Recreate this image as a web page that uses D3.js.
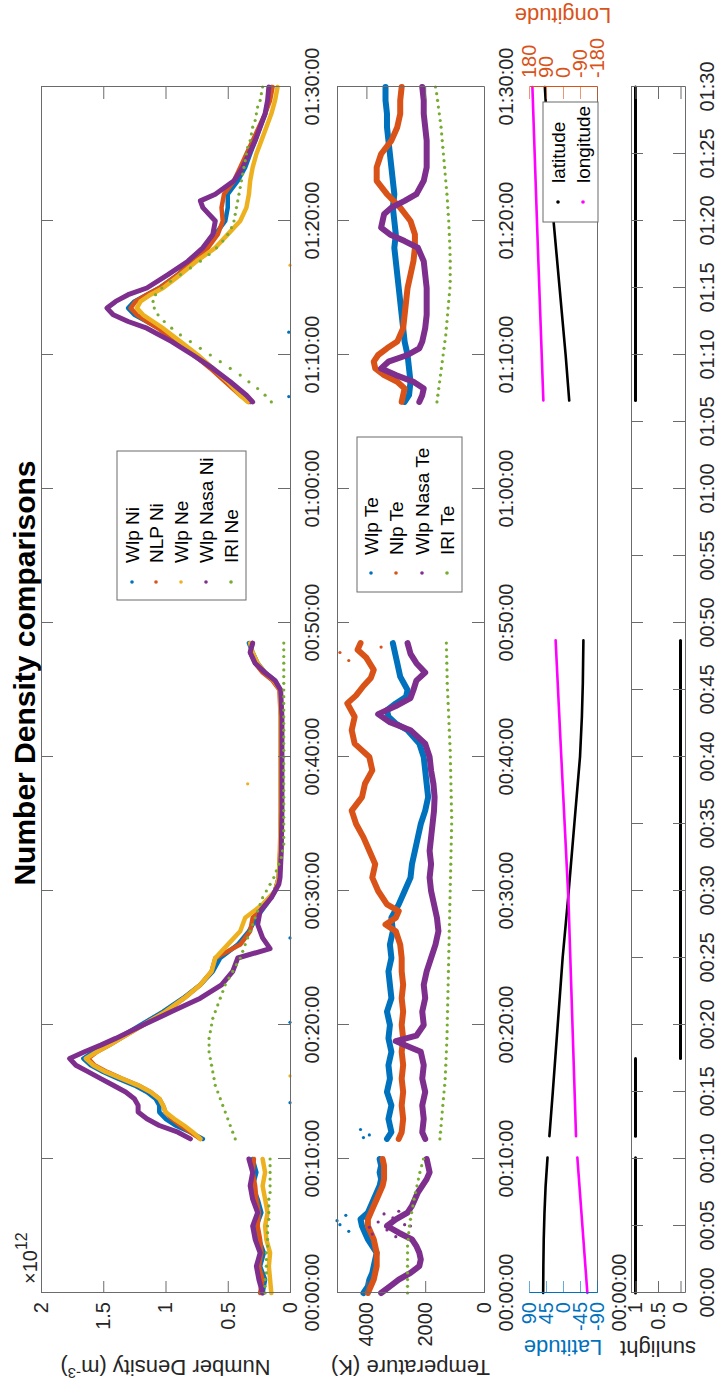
<!DOCTYPE html>
<html>
<head>
<meta charset="utf-8">
<script src="https://cdn.jsdelivr.net/npm/d3@7"></script>
<style>
body { margin: 0; background: #fff; }
text { font-family: "Liberation Sans", Arial, sans-serif; }
</style>
</head>
<body>
<div id="wrapper"></div>
<script>
// ---- data (time in minutes after 00:00:00) ----
const timeTicks = [0, 10, 20, 30, 40, 50, 60, 70, 80, 90];
const sunTicks = [0, 5, 10, 15, 20, 25, 30, 35, 40, 45, 50, 55, 60, 65, 70, 75, 80, 85, 90];
const densTicks = [0, 0.5, 1, 1.5, 2];
const tempTicks = [0, 2000, 4000];
const latTicks = [-90, -45, 0, 45, 90];
const lonTicks = [-180, -90, 0, 90, 180];
const sunYTicks = [0, 0.5, 1];

const densNames = ["Wlp Ni", "NLP Ni", "Wlp Ne", "Wlp Nasa Ni", "IRI Ne"];
const tempNames = ["Wlp Te", "Nlp Te", "Wlp Nasa Te", "IRI Te"];

// number density x1e12 m^-3, [minute, value], one array per pass
const wlpNi = [
  [[0,.22],[1,.2],[2,.24],[3,.21],[4,.25],[5,.27],[6,.23],[7,.26],[8,.3],[9,.27],[10,.3]],
  [[11.5,.7],[12,.8],[12.5,.92],[13,1],[13.5,1.05],[14,1.05],[14.5,1.08],[15,1.15],[15.5,1.25],[16,1.38],[16.5,1.5],[17,1.6],[17.5,1.66],[18,1.58],[18.5,1.48],[19,1.38],[20,1.2],[21,1.02],[22,.86],[23,.72],[24,.62],[25,.56],[26,.42],[27,.33],[28,.27],[29,.19],[30,.12],[31,.09],[33,.075],[36,.07],[40,.07],[43,.07],[45,.08],[45.7,.12],[46.3,.2],[47,.26],[47.8,.3],[48.5,.33]],
  [[66.5,.32],[67,.38],[68,.5],[69,.62],[70,.75],[71,.9],[72,1.05],[72.5,1.15],[73,1.25],[73.5,1.3],[74,1.25],[74.5,1.15],[75,1.05],[76,.9],[77,.8],[78,.68],[79,.6],[80,.52],[81,.5],[82,.5],[83,.42],[84,.36],[85,.32],[86,.28],[87,.24],[88,.2],[89,.17],[90,.15]]
];
const nlpNi = [
  [[0,.24],[1,.22],[2,.25],[3,.23],[4,.24],[5,.26],[6,.25],[7,.27],[8,.28],[9,.3],[10,.29]],
  [[11.5,.72],[12,.8],[12.5,.88],[13,.95],[13.5,1],[14,1.02],[14.5,1.05],[15,1.12],[15.5,1.22],[16,1.35],[16.5,1.47],[17,1.57],[17.5,1.62],[18,1.55],[18.5,1.45],[19,1.36],[20,1.18],[21,1],[22,.85],[23,.72],[24,.63],[25,.6],[26,.4],[27,.32],[28,.3],[29,.2],[30,.12],[31,.09],[33,.08],[36,.075],[40,.075],[43,.075],[45,.085],[45.7,.14],[46.3,.22],[47,.28],[47.8,.32],[48.5,.3]],
  [[66.5,.33],[67,.4],[68,.52],[69,.64],[70,.77],[71,.92],[72,1.06],[72.5,1.15],[73,1.23],[73.5,1.28],[74,1.24],[74.5,1.15],[75,1.05],[76,.9],[77,.78],[78,.66],[79,.58],[80,.54],[81,.55],[82,.53],[83,.45],[84,.4],[85,.35],[86,.3],[87,.25],[88,.2],[89,.16],[90,.14]]
];
const wlpNe = [
  [[0,.15],[1,.16],[2,.17],[3,.16],[4,.19],[5,.2],[6,.18],[7,.2],[8,.22],[9,.2],[10,.22]],
  [[11.5,.72],[12,.78],[12.5,.85],[13,.93],[13.5,1],[14,1.02],[14.5,1.05],[15,1.12],[15.5,1.22],[16,1.35],[16.5,1.48],[17,1.58],[17.5,1.64],[18,1.55],[18.5,1.45],[19,1.36],[20,1.18],[21,1],[22,.85],[23,.72],[24,.63],[25,.6],[26,.5],[27,.4],[28,.36],[29,.22],[30,.12],[31,.09],[33,.08],[36,.075],[40,.075],[43,.075],[45,.08],[45.7,.13],[46.3,.2],[47,.26],[47.8,.3],[48.5,.32]],
  [[66.5,.34],[67,.4],[68,.5],[69,.62],[70,.74],[71,.88],[72,1.02],[72.5,1.1],[73,1.18],[73.5,1.23],[74,1.2],[74.5,1.12],[75,1.02],[76,.88],[77,.75],[78,.6],[79,.5],[80,.4],[81,.35],[82,.33],[83,.32],[84,.3],[85,.27],[86,.23],[87,.19],[88,.15],[89,.12],[90,.1]]
];
const wlpNasaNi = [
  [[0,.22],[1,.25],[2,.27],[3,.24],[4,.28],[5,.3],[6,.26],[7,.3],[8,.32],[9,.3],[10,.33]],
  [[11.5,.8],[12,.9],[12.5,1.05],[13,1.15],[13.5,1.22],[14,1.22],[14.5,1.25],[15,1.32],[15.5,1.42],[16,1.52],[16.5,1.62],[17,1.72],[17.5,1.77],[18,1.65],[18.5,1.52],[19,1.4],[20,1.18],[21,.95],[22,.72],[23,.55],[24,.46],[25,.42],[25.7,.16],[26.5,.22],[27.5,.26],[28.5,.24],[29.5,.15],[30.5,.09],[31,.08],[33,.07],[36,.065],[40,.065],[43,.065],[45,.075],[45.7,.12],[46.3,.2],[47,.28],[47.8,.32],[48.5,.3]],
  [[66.5,.3],[67,.35],[68,.48],[69,.62],[70,.78],[71,.95],[72,1.15],[72.5,1.3],[73,1.42],[73.5,1.47],[74,1.4],[74.5,1.3],[75,1.15],[76,.98],[77,.82],[78,.7],[79,.62],[80,.6],[81,.7],[81.5,.72],[82,.6],[83,.45],[84,.38],[85,.33],[86,.28],[87,.24],[88,.2],[89,.18],[90,.17]]
];
// IRI model: one value every half minute from each pass start
const passStarts = [0, 11.5, 66.5];
const iriStep = 0.5;
const iriNe = [
  [.2,.2,.2,.19,.19,.19,.19,.18,.18,.18,.18,.17,.17,.17,.17,.16,.16,.16,.16,.16,.16],
  [.44,.46,.48,.5,.52,.54,.56,.58,.6,.61,.62,.63,.64,.65,.65,.65,
   .64,.63,.62,.6,.58,.56,.54,.52,.49,.46,.43,.4,
   .38,.36,.34,.32,.3,.28,.26,.24,.22,.19,.16,.13,
   .11,.09,.07,.06,.05,.05,.05,.05,.05,.05,.05,.05,.05,.05,.05,.05,.05,.05,.05,.05,.05,.05,.05,.05,.05,.05,.05,.05,.05,.05,.05,.05,.05,.05,.05],
  [.15,.2,.26,.33,.4,.48,.56,.64,.72,.8,.88,.95,1.01,1.06,1.09,1.1,1.08,1.03,.96,.88,
   .8,.72,.65,.59,.54,.5,.47,.45,.44,.43,.42,.41,.4,.39,.38,.37,.36,.35,.34,.32,
   .31,.3,.28,.27,.26,.24,.23,.22]
];
const wlpNiOut = [[14.2,0],[20.2,0],[26.5,0],[66.9,.01],[71.7,.01]];
const wlpNeOut = [[16.2,0],[76.7,0],[38,.34]];

// electron temperature K
const wlpTe = [
  [[0,4100],[.5,3950],[1,3900],[1.5,3800],[2,3750],[2.5,3700],[3,3650],[3.5,3800],[4,3950],[4.5,4050],[5,4150],[5.5,4200],[6,3950],[6.5,3850],[7,3750],[7.5,3650],[8,3550],[8.5,3500],[9,3550],[9.5,3500],[10,3550]],
  [[11.5,3300],[12,3150],[13,3250],[14,3150],[15,3300],[16,3200],[17,3250],[18,3150],[19,3250],[20,3200],[21,3300],[22,3150],[23,3200],[24,3250],[25,3150],[26,3200],[27,3100],[28,3150],[29,2900],[30,2700],[31,2500],[32,2450],[33,2350],[34,2250],[35,2150],[36,2000],[37,1900],[38,1950],[39,2000],[40,2050],[41,2200],[42,2600],[42.5,3000],[43,3250],[43.5,3300],[44,3000],[44.5,2650],[45,2600],[46,2850],[47,2950],[48,3050],[48.5,3100]],
  [[66.5,2700],[67,2550],[68,2500],[69,2550],[70,2600],[71,2700],[72,2750],[73,2800],[74,2850],[75,2900],[76,2950],[77,3000],[78,3050],[79,3000],[80,3050],[81,3100],[82,3050],[83,3100],[84,3150],[85,3200],[86,3250],[87,3300],[88,3300],[89,3350],[90,3350]]
];
const nlpTe = [
  [[0,3950],[.5,3850],[1,3750],[1.5,3700],[2,3650],[2.5,3650],[3,3650],[3.5,3700],[4,3750],[4.5,3850],[5,3950],[5.5,3950],[6,3850],[6.5,3750],[7,3650],[7.5,3550],[8,3450],[8.5,3400],[9,3400],[9.5,3400],[10,3450]],
  [[11.5,2900],[12,2800],[13,2750],[14,2800],[15,2750],[16,2800],[17,2750],[18,2800],[19,2750],[20,2800],[21,2750],[22,2800],[23,2750],[24,2800],[25,2800],[26,2850],[27,3000],[27.5,3350],[28,3000],[28.5,2900],[29,3300],[30,3600],[31,3800],[32,3700],[33,3900],[34,4100],[35,4350],[36,4500],[37,4150],[38,4050],[39,3800],[40,3900],[41,4400],[42,4500],[43,4400],[44,4650],[44.6,4350],[45.3,4100],[45.9,3850],[46.5,3750],[47.4,4000],[48,4300],[48.5,4200]],
  [[66.5,2800],[67,2750],[67.5,2700],[68,2950],[68.5,3400],[69,3700],[69.5,3750],[70,3600],[70.5,3300],[71,2950],[72,2750],[73,2700],[74,2650],[75,2600],[76,2500],[77,2400],[78,2350],[79,2350],[80,2500],[81,2850],[82,3300],[83,3650],[84,3650],[85,3500],[86,3150],[87,2950],[88,2850],[89,2850],[90,2800]]
];
const wlpNasaTe = [
  [[0,3500],[.5,3200],[1,2900],[1.5,2500],[2,2200],[2.5,2150],[3,2200],[3.5,2300],[4,2450],[4.5,2900],[5,3300],[5.5,3000],[6,2600],[6.5,2450],[7,2350],[7.5,2250],[8,2100],[8.5,1950],[9,1850],[9.5,1900],[10,1950]],
  [[11.5,2000],[12,2100],[13,2050],[14,2100],[15,2000],[16,2100],[17,2050],[18,2150],[18.5,2700],[18.8,3000],[19.2,2300],[20,2050],[21,2100],[22,2000],[23,2050],[24,1950],[25,1800],[26,1650],[27,1550],[28,1600],[29,1700],[30,1800],[31,1850],[32,1800],[33,1850],[34,1800],[35,1750],[36,1700],[37,1680],[38,1720],[39,1800],[40,1850],[41,2000],[42,2500],[42.6,3200],[43.2,3600],[43.8,3000],[44.4,2500],[45,2400],[45.7,2300],[46.3,2000],[47,2300],[47.7,2500],[48.5,2600]],
  [[66.5,2200],[67,2100],[67.5,2050],[68,2400],[68.5,3000],[69,3500],[69.5,3250],[70,2600],[70.5,2200],[71,2100],[72,2000],[73,1950],[74,1950],[75,1950],[76,2000],[77,2050],[78,2250],[78.5,2700],[79,3200],[79.5,3500],[80,3450],[80.5,3400],[81,3150],[81.5,2700],[82,2300],[83,2050],[84,1950],[85,1950],[86,1950],[87,2000],[88,2050],[89,2050],[90,2100]]
];
const iriTe = [
  [2600,2600,2600,2600,2600,2600,2600,2600,2580,2560,2540,2500,2460,2420,2380,2330,2280,2230,2180,2120,2060],
  [1500,1480,1460,1440,1420,1400,1380,1360,1340,1320,1310,1300,1290,1280,1270,1260,1255,1250,
   1245,1240,1235,1230,1225,1220,1215,1210,1205,1200,1195,1190,1185,1180,1175,1170,1165,1160,1155,1150,1145,1140,1135,1130,1125,1120,1115,1110,1105,1100,
   1100,1105,1110,1115,1120,1125,1130,1135,1140,1145,1150,1160,1170,1180,1190,1200,1210,1220,1230,1240,1250,1255,1260,1265,1270,1275,1280],
  [1600,1570,1540,1510,1480,1450,1420,1390,1360,1330,1300,1280,1260,1240,1220,1200,1180,1160,
   1150,1150,1150,1150,1155,1160,1170,1180,1190,1200,1215,1230,1245,1260,
   1280,1300,1320,1340,1360,1380,1400,1420,1440,1460,1490,1520,1550,1580,1610,1650]
];
const wlpTeOut = [[4.6,4600],[5.1,4900],[5.4,5000],[5.8,4700],[11.6,4100],[11.8,3900],[12.2,4200]];
const nlpTeOut = [[47.8,4900],[48.2,3500],[47.2,4600]];
const nasaTeOut = [[4.4,3800],[4.7,3300],[4.9,3900],[5.1,2700],[5.3,3600],[5.6,3100],[5.9,3400],[6.1,2900],[5,2500],[4.2,3000]];

// orbit
const latitude = [
  [[0,52.5],[2,52],[4,51],[6,49],[8,46],[10.1,41]],
  [[11.7,36],[15,27],[20,14],[25,1],[29.3,-13],[35,-30],[40,-45],[43,-50],[45.5,-52.5],[48.7,-54]],
  [[66.6,-16.5],[70,-7],[75,9],[80,25],[85,38],[90,48]]
];
const longitude = [
  [[0,-129],[10.1,-76]],
  [[11.7,-69],[29.3,-29],[40,9],[48.7,39]],
  [[66.6,104],[78,133],[90,162]]
];
const sunlight = [
  [[0,1],[10.1,1]],
  [[11.7,1],[17.5,1]],
  [[17.5,0],[48.7,0]],
  [[66.6,1],[90,1]]
];

// ---- drawing (figure drawn landscape, then turned a quarter to the left) ----
const W = 1384, H = 717;
const colors = ["#0072BD", "#D95319", "#EDB120", "#7E2F8E", "#77AC30"];
const axisGray = "#6b6b6b", textCol = "#262626";
const font = 20;

const svg = d3.select("#wrapper").append("svg").attr("width", H).attr("height", W);
svg.append("rect").attr("width", H).attr("height", W).attr("fill", "#fff");
const fig = svg.append("g").attr("transform", `translate(0,${W}) rotate(-90)`);

const xScale = d3.scaleLinear().domain([0, 90]).range([91, 1297]);
const pad2 = n => String(n).padStart(2, "0");
const hms = m => `${pad2(Math.floor(m / 60))}:${pad2(m % 60)}:00`;
const hm = m => `${pad2(Math.floor(m / 60))}:${pad2(m % 60)}`;
const plain = d => String(d);

function styleAxis(g, col, labelCol) {
  g.attr("font-size", font).attr("font-family", "Liberation Sans, Arial, sans-serif");
  g.selectAll("path.domain").attr("stroke", col).attr("stroke-width", 1);
  g.selectAll(".tick line").attr("stroke", col).attr("stroke-width", 1);
  g.selectAll(".tick text").attr("fill", labelCol);
}

function boxPanel(top, bottom, yScale, yTicks, yFmt, xTicks, xFmt) {
  const g = fig.append("g");
  const b = g.append("g").attr("transform", `translate(0,${bottom})`)
    .call(d3.axisBottom(xScale).tickValues(xTicks).tickFormat(xFmt).tickSizeInner(-12).tickSizeOuter(0).tickPadding(15));
  styleAxis(b, axisGray, textCol);
  const t = g.append("g").attr("transform", `translate(0,${top})`)
    .call(d3.axisTop(xScale).tickValues(xTicks).tickFormat("").tickSizeInner(-12).tickSizeOuter(0));
  styleAxis(t, axisGray, textCol);
  const l = g.append("g").attr("transform", `translate(91,0)`)
    .call(d3.axisLeft(yScale).tickValues(yTicks).tickFormat(yFmt).tickSizeInner(-12).tickSizeOuter(0).tickPadding(9));
  styleAxis(l, axisGray, textCol);
  const r = g.append("g").attr("transform", `translate(1297,0)`)
    .call(d3.axisRight(yScale).tickValues(yTicks).tickFormat("").tickSizeInner(-12).tickSizeOuter(0));
  styleAxis(r, axisGray, textCol);
  return g;
}

function drawSegments(g, series, yScale, col, width) {
  const line = d3.line().x(d => xScale(d[0])).y(d => yScale(d[1]));
  series.forEach(seg => {
    g.append("path").attr("d", line(seg)).attr("fill", "none")
      .attr("stroke", col).attr("stroke-width", width)
      .attr("stroke-linejoin", "round").attr("stroke-linecap", "round");
  });
}
function drawDots(g, pts, yScale, col, r) {
  g.selectAll(null).data(pts).enter().append("circle")
    .attr("cx", d => xScale(d[0])).attr("cy", d => yScale(d[1]))
    .attr("r", r).attr("fill", col);
}
function iriPoints(vals) {
  const pts = [];
  vals.forEach((seg, i) => seg.forEach((v, k) => pts.push([passStarts[i] + k * iriStep, v])));
  return pts;
}
function yLabel(txt, x, yc, col) {
  return fig.append("text").attr("transform", `translate(${x},${yc}) rotate(-90)`)
    .attr("text-anchor", "middle").attr("font-size", 22).attr("fill", col).text(txt);
}
function legend(x, y, w, h, names, cols, rowY, mx, tx) {
  const g = fig.append("g");
  g.append("rect").attr("x", x).attr("y", y).attr("width", w).attr("height", h)
    .attr("fill", "#fff").attr("stroke", axisGray).attr("stroke-width", 1);
  names.forEach((n, i) => {
    g.append("circle").attr("cx", mx).attr("cy", rowY[i]).attr("r", 1.8).attr("fill", cols[i]);
    g.append("text").attr("x", tx).attr("y", rowY[i]).attr("dy", "0.35em")
      .attr("font-size", 19).attr("fill", "#000").text(n);
  });
}

// panel 1: number density
const yDens = d3.scaleLinear().domain([0, 2]).range([290, 41]);
const p1 = fig.append("g");
drawSegments(p1, wlpNi, yDens, colors[0], 4.5);
drawSegments(p1, nlpNi, yDens, colors[1], 4.5);
drawSegments(p1, wlpNe, yDens, colors[2], 4.5);
drawSegments(p1, wlpNasaNi, yDens, colors[3], 5);
drawDots(p1, wlpNiOut, yDens, colors[0], 1.6);
drawDots(p1, wlpNeOut, yDens, colors[2], 1.6);
drawDots(p1, iriPoints(iriNe), yDens, colors[4], 1.6);
boxPanel(41, 290, yDens, densTicks, plain, timeTicks, hms);
const mult = fig.append("text").attr("x", 100).attr("y", 37).attr("font-size", font).attr("fill", textCol);
mult.append("tspan").text("\u00d710");
mult.append("tspan").attr("dy", -10).attr("font-size", 16).text("12");
yLabel("", 24, 165.5, textCol).call(t => {
  t.append("tspan").text("Number Density (m");
  t.append("tspan").attr("dy", -8).attr("font-size", 15).text("-3");
  t.append("tspan").attr("dy", 8).text(")");
});
fig.append("text").attr("x", 711).attr("y", 35).attr("text-anchor", "middle")
  .attr("font-size", 30).attr("font-weight", "bold").attr("fill", "#000")
  .text("Number Density comparisons");
legend(784, 117, 149, 129, densNames, colors, [132, 156, 181, 206, 231], 802, 821);

// panel 2: temperature
const yTemp = d3.scaleLinear().domain([0, 5000]).range([484, 337]);
const p2 = fig.append("g");
drawSegments(p2, wlpTe, yTemp, colors[0], 6);
drawSegments(p2, nlpTe, yTemp, colors[1], 6);
drawSegments(p2, wlpNasaTe, yTemp, colors[3], 6);
drawDots(p2, wlpTeOut, yTemp, colors[0], 1.6);
drawDots(p2, nlpTeOut, yTemp, colors[1], 1.6);
drawDots(p2, nasaTeOut, yTemp, colors[3], 1.6);
drawDots(p2, iriPoints(iriTe), yTemp, colors[4], 1.6);
boxPanel(337, 484, yTemp, tempTicks, plain, timeTicks, hms);
yLabel("Temperature (K)", 24, 410.5, textCol);
legend(792, 357, 155, 105, tempNames, [colors[0], colors[1], colors[3], colors[4]], [371, 396, 422, 447], 811, 829);

// panel 3: latitude / longitude
const yLat = d3.scaleLinear().domain([-90, 90]).range([597, 529]);
const yLon = d3.scaleLinear().domain([-180, 180]).range([597, 529]);
const p3 = fig.append("g");
drawSegments(p3, latitude, yLat, "#000", 2.6);
drawSegments(p3, longitude, yLon, "#FF00FF", 2.6);
const lb = fig.append("g").attr("transform", "translate(0,597)")
  .call(d3.axisBottom(xScale).tickValues([0]).tickFormat(hms).tickSize(0).tickPadding(15));
styleAxis(lb, axisGray, textCol);
const ll = fig.append("g").attr("transform", "translate(91,0)")
  .call(d3.axisLeft(yLat).tickValues(latTicks).tickFormat(plain).tickSizeInner(-12).tickSizeOuter(0).tickPadding(9));
styleAxis(ll, "#0072BD", "#0072BD");
ll.selectAll(".tick line").attr("stroke-opacity", 0.6);
const lr = fig.append("g").attr("transform", "translate(1297,0)")
  .call(d3.axisRight(yLon).tickValues(lonTicks).tickFormat(plain).tickSizeInner(-12).tickSizeOuter(0).tickPadding(9));
styleAxis(lr, "#D95319", "#D95319");
lr.selectAll(".tick line").attr("stroke-opacity", 0.6);
yLabel("Latitude", 44, 563, "#0072BD");
yLabel("Longitude", 1376, 563, "#D95319");
legend(1162, 543, 120, 55, ["latitude", "longitude"], ["#000", "#FF00FF"], [558, 583], 1182, 1201);

// panel 4: sunlight
const ySun = d3.scaleLinear().domain([-0.1, 1.1]).range([685, 631]);
const p4 = fig.append("g");
drawSegments(p4, sunlight, ySun, "#000", 3);
boxPanel(631, 685, ySun, sunYTicks, plain, sunTicks, hm);
yLabel("sunlight", 43, 658, textCol);
</script>
</body>
</html>
